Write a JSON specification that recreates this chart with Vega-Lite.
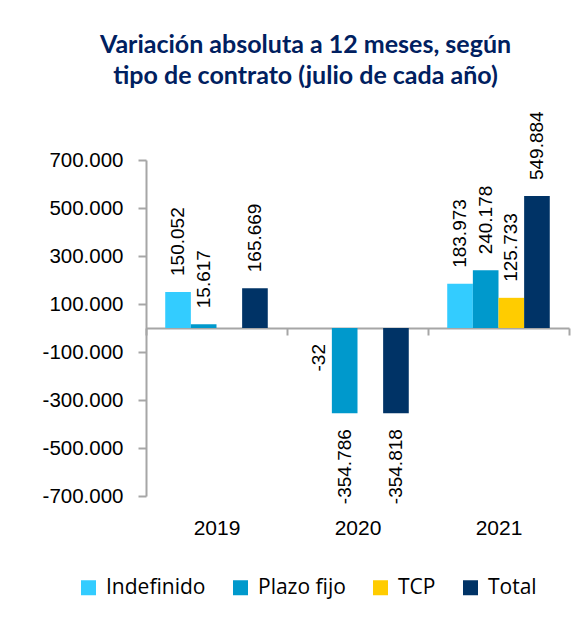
{
  "$schema": "https://vega.github.io/schema/vega-lite/v6.json",
  "width": 423,
  "height": 336,
  "autosize": "none",
  "padding": {"left": 146, "top": 160, "right": 18, "bottom": 127},
  "background": "white",
  "title": {
    "text": ["Variación absoluta a 12 meses, según", "tipo de contrato (julio de cada año)"],
    "font": "Lato",
    "fontSize": 25,
    "fontWeight": "bold",
    "color": "#002060",
    "anchor": "middle",
    "frame": "group",
    "dx": -52,
    "offset": 22,
    "lineHeight": 31
  },
  "data": {
    "values": [
      {"year": "2019", "tipo": "Indefinido", "value": 150052},
      {"year": "2019", "tipo": "Plazo fijo", "value": 15617},
      {"year": "2019", "tipo": "Total", "value": 165669},
      {"year": "2020", "tipo": "Indefinido", "value": -32},
      {"year": "2020", "tipo": "Plazo fijo", "value": -354786},
      {"year": "2020", "tipo": "Total", "value": -354818},
      {"year": "2021", "tipo": "Indefinido", "value": 183973},
      {"year": "2021", "tipo": "Plazo fijo", "value": 240178},
      {"year": "2021", "tipo": "TCP", "value": 125733},
      {"year": "2021", "tipo": "Total", "value": 549884}
    ]
  },
  "encoding": {
    "x": {
      "field": "year",
      "type": "nominal",
      "scale": {"paddingInner": 0, "paddingOuter": 0},
      "axis": {
        "title": null,
        "orient": "bottom",
        "offset": -168,
        "tickBand": "extent",
        "domainColor": "#A6A6A6",
        "domainWidth": 2,
        "tickColor": "#A6A6A6",
        "tickWidth": 2,
        "tickSize": 7,
        "labelPadding": 182,
        "labelFont": "Liberation Sans",
        "labelFontSize": 21,
        "labelColor": "#000000",
        "labelAngle": 0
      }
    },
    "xOffset": {
      "field": "tipo",
      "type": "nominal",
      "scale": {"domain": ["Indefinido", "Plazo fijo", "TCP", "Total"], "paddingInner": 0, "paddingOuter": 0.75}
    },
    "y": {
      "field": "value",
      "type": "quantitative",
      "stack": null,
      "scale": {"domain": [-700000, 700000], "nice": false, "zero": false},
      "axis": {
        "title": null,
        "values": [-700000, -500000, -300000, -100000, 100000, 300000, 500000, 700000],
        "format": ",d",
        "grid": false,
        "domainColor": "#A6A6A6",
        "domainWidth": 2,
        "tickColor": "#A6A6A6",
        "tickWidth": 2,
        "tickSize": 8,
        "labelPadding": 15,
        "labelFont": "Liberation Sans",
        "labelFontSize": 20.5,
        "labelColor": "#000000"
      }
    }
  },
  "layer": [
    {
      "mark": {"type": "bar"},
      "encoding": {
        "color": {
          "field": "tipo",
          "type": "nominal",
          "scale": {"domain": ["Indefinido", "Plazo fijo", "TCP", "Total"], "range": ["#33CCFF", "#0099CC", "#FFCC00", "#003366"]},
          "legend": {
            "title": null,
            "orient": "none",
            "legendX": -68,
            "legendY": 417,
            "direction": "horizontal",
            "symbolType": "square",
            "symbolSize": 225,
            "symbolStrokeWidth": 0,
            "labelFont": "Open Sans",
            "labelFontSize": 21,
            "labelColor": "#000000",
            "labelOffset": 7,
            "columnPadding": 24,
            "padding": 0
          }
        }
      }
    },
    {
      "transform": [{"filter": "datum.value >= 0"}],
      "mark": {"type": "text", "angle": 270, "align": "left", "baseline": "middle", "dx": 16, "font": "Liberation Sans", "fontSize": 19, "color": "#000000"},
      "encoding": {"text": {"field": "value", "type": "quantitative", "format": ",d"}}
    },
    {
      "transform": [{"filter": "datum.value < 0"}],
      "mark": {"type": "text", "angle": 270, "align": "right", "baseline": "middle", "dx": -16, "font": "Liberation Sans", "fontSize": 19, "color": "#000000"},
      "encoding": {"text": {"field": "value", "type": "quantitative", "format": ",d"}}
    }
  ],
  "config": {
    "view": {"stroke": null},
    "locale": {
      "number": {"decimal": ",", "thousands": ".", "grouping": [3], "currency": ["", " €"], "minus": "-"}
    }
  }
}
